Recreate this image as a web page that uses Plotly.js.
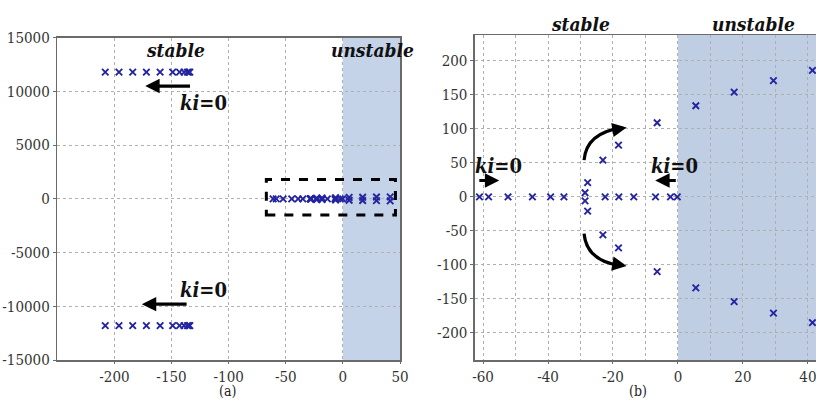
<!DOCTYPE html>
<html>
<head>
<meta charset="utf-8">
<script src="https://cdn.plot.ly/plotly-3.0.1.min.js"></script>
<style>html,body{margin:0;padding:0;background:#fff;}#chart{width:816px;height:401px;}</style>
</head>
<body>
<div id="chart"></div>
<script>
// High-frequency poles (panel a)
var hfRe = [-208, -196, -184, -172, -160, -149, -143, -139, -136, -135, -134];
var hfImUp = [11800, 11800, 11800, 11800, 11800, 11800, 11800, 11800, 11800, 11800, 11800];
var hfImDown = [-11800, -11800, -11800, -11800, -11800, -11800, -11800, -11800, -11800, -11800, -11800];
// Low-frequency poles on the real axis (panel b)
var realRe = [-61.1, -58.3, -52.3, -44.8, -39.2, -35.1, -22.4, -18.2, -13.6, -6.9, -2.3, -0.2];
var realIm = [0, 0, 0, 0, 0, 0, 0, 0, 0, 0, 0, 0];
// Low-frequency complex poles (panel b)
var cRe = [-28.6, -27.8, -23.1, -18.3, -6.4, 5.5, 17.3, 29.4, 41.4];
var cImUp = [6, 21, 54, 76, 109, 134, 154, 171, 186];
var cImDown = [-6, -21, -56, -75, -110, -134, -154, -171, -185];

var xTicksA = [-200, -150, -100, -50, 0, 50];
var yTicksA = [-15000, -10000, -5000, 0, 5000, 10000, 15000];
var xTicksB = [-60, -40, -20, 0, 20, 40];
var yTicksB = [-200, -150, -100, -50, 0, 50, 100, 150, 200];
function txtOf(a) { return a.map(function (v) { return String(v); }); }

var mk = {symbol: 'x-thin-open', size: 6.5, color: '#2424a0', line: {width: 1.9, color: '#2424a0'}};
function tr(x, y, xa, ya) {
  return {x: x, y: y, xaxis: xa, yaxis: ya, type: 'scatter', mode: 'markers', marker: mk, hoverinfo: 'skip', showlegend: false, cliponaxis: true};
}
var data = [
  tr(hfRe, hfImUp, 'x', 'y'),
  tr(hfRe, hfImDown, 'x', 'y'),
  tr(realRe, realIm, 'x', 'y'),
  tr(cRe, cImUp, 'x', 'y'),
  tr(cRe, cImDown, 'x', 'y'),
  tr(realRe, realIm, 'x2', 'y2'),
  tr(cRe, cImUp, 'x2', 'y2'),
  tr(cRe, cImDown, 'x2', 'y2')
];

var fCond = '"DejaVu Serif Condensed", "DejaVu Serif"';
var gridCol = '#b0b0b0';
function axis(extra) {
  var a = {showgrid: true, gridcolor: gridCol, griddash: 'dot', gridwidth: 1, zeroline: false,
    showline: true, mirror: true, linecolor: '#6a6a6a', linewidth: 1.5,
    ticks: 'outside', ticklen: 3, tickcolor: '#6a6a6a', ticklabeloverflow: 'allow',
    tickfont: {family: fCond, size: 15, color: '#333'}, tickmode: 'array', fixedrange: true};
  for (var k in extra) a[k] = extra[k];
  return a;
}

function lab(t, x, y, xr, yr, sz) {
  return {text: t, x: x, y: y, xref: xr, yref: yr, showarrow: false, font: {family: fCond, size: sz || 19, color: '#111'}, xanchor: 'center', yanchor: 'middle'};
}
function arr(x, y, ax, ay, xr, yr) {
  return {x: x, y: y, ax: ax, ay: ay, xref: xr, yref: yr, axref: xr, ayref: yr, showarrow: true,
    arrowhead: 2, arrowsize: 0.9, arrowwidth: 3.2, arrowcolor: '#000', text: '', standoff: 0, startstandoff: 0};
}
function arrPx(x, y, ax, ay, xr, yr) {
  return {x: x, y: y, ax: ax, ay: ay, xref: xr, yref: yr, showarrow: true,
    arrowhead: 2, arrowsize: 0.9, arrowwidth: 3.2, arrowcolor: '#000', text: '', standoff: 0};
}

var layout = {
  width: 816, height: 401,
  margin: {l: 0, r: 0, t: 0, b: 0},
  paper_bgcolor: '#fff', plot_bgcolor: 'rgba(0,0,0,0)',
  font: {family: fCond},
  showlegend: false,
  xaxis: axis({domain: [0.0702, 0.4902], range: [-250, 50], tickvals: xTicksA, ticktext: txtOf(xTicksA), anchor: 'y', ticklen: 2}),
  yaxis: axis({domain: [0.1022, 0.906], range: [-15000, 15000], tickvals: yTicksA, ticktext: txtOf(yTicksA), anchor: 'x'}),
  xaxis2: axis({domain: [0.582, 1.0], range: [-62.5, 42.5], tickvals: xTicksB, ticktext: txtOf(xTicksB), anchor: 'y2', ticklen: 2,
    minor: {dtick: 10, tick0: 0, showgrid: true, gridcolor: gridCol, griddash: 'dot', gridwidth: 1}}),
  yaxis2: axis({domain: [0.1022, 0.9127], range: [-240, 238], tickvals: yTicksB, ticktext: txtOf(yTicksB), anchor: 'x2'}),
  shapes: [
    {type: 'rect', xref: 'x', yref: 'y domain', x0: 0, x1: 50, y0: 0, y1: 1, fillcolor: '#c4d3e7', line: {width: 0}, layer: 'below'},
    {type: 'rect', xref: 'x2', yref: 'y2 domain', x0: 0, x1: 50, y0: 0, y1: 1, fillcolor: '#bfcee3', line: {width: 0}, layer: 'below'},
    {type: 'rect', xref: 'x', yref: 'y', x0: -67, x1: 46, y0: -1500, y1: 1800, line: {color: '#000', width: 3, dash: 'dash'}, fillcolor: 'rgba(0,0,0,0)', layer: 'above'},
    {type: 'path', xref: 'x2', yref: 'y2', path: 'M -28.9,54 Q -28.2,94 -17.5,101.5', line: {color: '#000', width: 3.2}, layer: 'above'},
    {type: 'path', xref: 'x2', yref: 'y2', path: 'M -28.9,-54 Q -28.2,-94 -17.5,-101.5', line: {color: '#000', width: 3.2}, layer: 'above'}
  ],
  annotations: [
    lab('<b><i>stable</i></b>', -146, 13900, 'x', 'y'),
    lab('<b><i>unstable</i></b>', 26, 13900, 'x', 'y'),
    lab('<b><i>ki</i>=0</b>', -122, 8900, 'x', 'y', 20),
    lab('<b><i>ki</i>=0</b>', -122, -8500, 'x', 'y', 20),
    arr(-173, 10500, -132.5, 10500, 'x', 'y'),
    arr(-176, -9800, -135.5, -9800, 'x', 'y'),
    {text: '(a)', x: 0.279, y: 0, xref: 'paper', yref: 'paper', showarrow: false, font: {family: fCond, size: 14, color: '#222'}, xanchor: 'center', yanchor: 'bottom'},
    lab('<b><i>stable</i></b>', -29.7, 0.94, 'x2', 'paper'),
    lab('<b><i>unstable</i></b>', 23.3, 0.94, 'x2', 'paper'),
    lab('<b><i>ki</i>=0</b>', -55.2, 45, 'x2', 'y2', 20),
    lab('<b><i>ki</i>=0</b>', -1.2, 45, 'x2', 'y2', 20),
    arr(-55.0, 24, -61.6, 24, 'x2', 'y2'),
    arr(-7.0, 24, -0.2, 24, 'x2', 'y2'),
    arrPx(-15.8, 101.8, -6, 1, 'x2', 'y2'),
    arrPx(-15.8, -101.8, -6, -1, 'x2', 'y2'),
    {text: '(b)', x: 0.782, y: 0, xref: 'paper', yref: 'paper', showarrow: false, font: {family: fCond, size: 14, color: '#222'}, xanchor: 'center', yanchor: 'bottom'}
  ]
};

Plotly.newPlot('chart', data, layout, {displayModeBar: false, staticPlot: true});
</script>
</body>
</html>
